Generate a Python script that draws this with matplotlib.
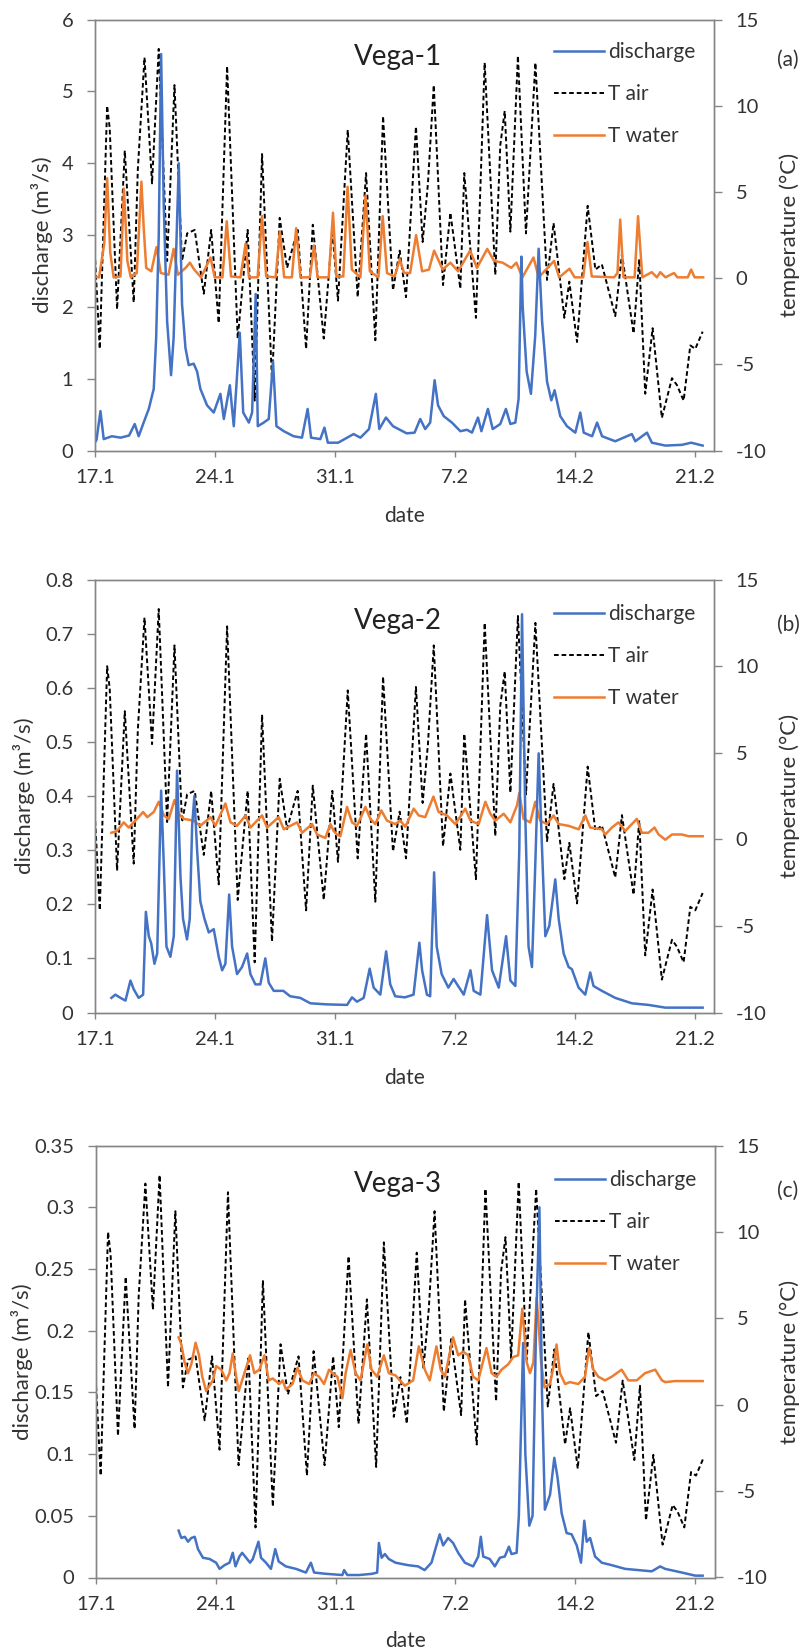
import matplotlib
matplotlib.use("Agg")
import matplotlib.pyplot as plt
from matplotlib.lines import Line2D
from matplotlib.ticker import FixedLocator, FuncFormatter

plt.rcParams['font.family'] = ['Lato', 'DejaVu Sans']

# ---------------------------------------------------------------------------
# Time axis: days since 17 January 00:00
date_ticks = [0, 7, 14, 21, 28, 35]
date_labels = ['17.1', '24.1', '31.1', '7.2', '14.2', '21.2']
x_end = 36.15

# Air temperature (one meteorological station for all sites), degC
tair_day = [0.00, 0.29, 0.72, 0.87, 1.30, 1.75, 2.27, 2.51, 2.90, 3.34,
            3.73, 4.22, 4.65, 5.09, 5.39, 5.83, 6.36, 6.79, 7.23, 7.72,
            8.34, 8.92, 9.33, 9.76, 10.34, 10.79, 11.22, 11.61, 11.84, 12.33,
            12.72, 13.36, 13.86, 14.19, 14.76, 15.34, 15.83, 16.37, 16.82, 17.40,
            17.79, 18.16, 18.74, 19.13, 19.44, 19.78, 20.32, 20.75, 21.33, 21.56,
            22.24, 22.75, 23.37, 23.66, 23.92, 24.25, 24.69, 25.16, 25.71, 26.39,
            26.77, 27.40, 27.69, 28.14, 28.76, 29.21, 29.59, 30.37, 30.76, 31.44,
            31.77, 32.12, 32.55, 33.09, 33.68, 33.97, 34.36, 34.75, 35.04, 35.47]
tair_val = [1.5, -4.1, 10.0, 8.7, -1.8, 7.4, -1.4, 6.3, 12.8, 5.5,
            13.3, 1.0, 11.2, 1.0, 2.6, 2.8, -0.9, 2.8, -2.6, 12.3,
            -3.5, 2.8, -7.1, 7.2, -5.9, 3.5, 0.6, 2.0, 2.8, -4.1,
            3.1, -3.5, 2.8, -1.3, 8.6, -1.1, 6.1, -3.6, 9.4, -0.7,
            1.6, -1.1, 8.8, 2.1, 5.5, 11.2, -0.4, 3.8, -0.6, 6.1,
            -2.3, 12.5, 0.2, 7.7, 9.7, 2.7, 12.9, 2.6, 12.5, -0.1,
            3.2, -2.3, -0.2, -3.7, 4.2, 0.5, 0.8, -2.2, 1.4, -3.2,
            1.1, -6.7, -2.9, -8.1, -5.8, -6.2, -7.1, -3.9, -4.1, -3.1]

# --- Vega-1 ----------------------------------------------------------------
v1_q_day = [0.0, 0.1, 0.33, 0.52, 1.0, 1.5, 2.0, 2.33, 2.56, 2.85,
            3.15, 3.44, 3.58, 3.73, 3.87, 4.02, 4.22, 4.45, 4.6, 4.9,
            5.09, 5.29, 5.48, 5.77, 5.97, 6.16, 6.55, 6.94, 7.33, 7.53,
            7.88, 8.11, 8.46, 8.66, 8.99, 9.18, 9.39, 9.51, 9.86, 10.15,
            10.4, 10.6, 11.03, 11.6, 12.09, 12.42, 12.62, 13.16, 13.4, 13.6,
            14.2, 15.1, 15.5, 16.0, 16.4, 16.6, 16.99, 17.4, 18.2, 18.66,
            18.99, 19.28, 19.57, 19.83, 20.03, 20.36, 20.84, 21.33, 21.72, 22.01,
            22.36, 22.56, 22.94, 23.22, 23.66, 23.99, 24.25, 24.54, 24.73, 24.89,
            24.97, 25.2, 25.45, 25.7, 25.9, 26.1, 26.39, 26.64, 26.83, 27.16,
            27.55, 28.04, 28.33, 28.53, 29.02, 29.31, 29.6, 30.37, 31.34, 31.54,
            32.22, 32.51, 33.29, 34.26, 34.8, 35.47]
v1_q = [0.11, 0.15, 0.55, 0.16, 0.2, 0.18, 0.21, 0.37, 0.2, 0.39,
        0.58, 0.86, 1.57, 2.98, 5.52, 3.45, 1.8, 1.05, 1.57, 4.0,
        2.04, 1.43, 1.19, 1.21, 1.1, 0.86, 0.63, 0.53, 0.79, 0.44,
        0.91, 0.34, 1.64, 0.53, 0.39, 0.53, 2.18, 0.34, 0.39, 0.44,
        1.24, 0.34, 0.27, 0.2, 0.18, 0.58, 0.18, 0.16, 0.32, 0.11,
        0.11, 0.23, 0.18, 0.3, 0.79, 0.3, 0.46, 0.34, 0.24, 0.25,
        0.44, 0.3, 0.39, 0.98, 0.63, 0.48, 0.39, 0.27, 0.29, 0.25,
        0.46, 0.27, 0.58, 0.3, 0.37, 0.58, 0.37, 0.39, 0.72, 2.7,
        2.0, 1.1, 0.79, 1.6, 2.81, 1.8, 0.96, 0.7, 0.84, 0.48,
        0.34, 0.25, 0.53, 0.25, 0.2, 0.39, 0.2, 0.13, 0.23, 0.13,
        0.25, 0.11, 0.07, 0.08, 0.11, 0.07]
v1_tw_day = [0.0, 0.25, 0.55, 0.72, 0.9, 1.1, 1.5, 1.7, 1.9, 2.1,
             2.45, 2.72, 2.85, 3.0, 3.3, 3.6, 3.85, 4.3, 4.6, 4.85,
             5.3, 5.55, 5.8, 6.2, 6.75, 7.0, 7.45, 7.7, 7.95, 8.5,
             8.8, 9.0, 9.5, 9.76, 10.0, 10.55, 10.8, 11.05, 11.5, 11.75,
             12.0, 12.55, 12.8, 13.0, 13.65, 13.9, 14.1, 14.5, 14.75, 15.0,
             15.5, 15.8, 16.05, 16.55, 16.8, 17.05, 17.5, 17.8, 18.05, 18.4,
             18.75, 19.1, 19.5, 19.8, 20.3, 20.75, 21.2, 21.9, 22.3, 22.9,
             23.3, 23.8, 24.3, 24.6, 24.95, 25.6, 25.9, 26.8, 27.1, 27.7,
             28.0, 28.5, 28.75, 29.0, 30.3, 30.5, 30.66, 30.85, 31.5, 31.7,
             31.95, 32.5, 32.8, 33.0, 33.3, 33.8, 34.0, 34.6, 34.8, 35.0,
             35.5]
v1_tw = [0.1, 0.05, 2.0, 5.8, 1.5, 0.05, 0.1, 5.2, 1.0, 0.05,
         0.3, 5.6, 3.0, 0.6, 0.4, 1.8, 0.3, 0.2, 1.7, 0.2,
         0.6, 0.9, 0.5, 0.05, 1.2, 0.05, 0.05, 3.3, 0.1, 0.05,
         2.0, 0.05, 0.05, 3.6, 0.1, 0.05, 2.7, 0.05, 0.05, 2.9,
         0.05, 0.05, 1.9, 0.05, 0.05, 3.8, 0.1, 0.1, 5.3, 0.5,
         0.05, 4.8, 0.4, 0.05, 3.6, 0.3, 0.1, 1.1, 0.3, 0.3,
         2.5, 0.4, 0.5, 1.6, 0.5, 0.9, 0.4, 1.6, 0.6, 1.7,
         1.0, 0.9, 0.6, 0.9, 0.05, 1.2, 0.05, 1.0, 0.05, 0.55,
         0.05, 0.05, 2.1, 0.1, 0.05, 0.3, 3.4, 0.05, 0.05, 3.6,
         0.05, 0.35, 0.05, 0.35, 0.05, 0.3, 0.05, 0.05, 0.5, 0.05,
         0.05]

# --- Vega-2 ----------------------------------------------------------------
v2_q_day = [0.97, 1.2, 1.5, 1.79, 2.08, 2.27, 2.56, 2.82, 2.98, 3.15,
            3.29, 3.48, 3.64, 3.87, 4.03, 4.18, 4.41, 4.61, 4.8, 5.0,
            5.15, 5.38, 5.54, 5.68, 5.81, 5.97, 6.16, 6.4, 6.65, 6.94,
            7.23, 7.43, 7.62, 7.84, 8.01, 8.3, 8.59, 8.89, 9.08, 9.37,
            9.66, 9.95, 10.15, 10.44, 11.0, 11.4, 11.99, 12.58, 13.55, 14.72,
            15.01, 15.3, 15.69, 16.04, 16.27, 16.66, 17.0, 17.24, 17.53, 18.1,
            18.6, 18.94, 19.1, 19.38, 19.57, 19.8, 19.95, 20.24, 20.63, 20.94,
            21.14, 21.53, 21.92, 22.11, 22.5, 22.89, 23.18, 23.57, 24.0, 24.25,
            24.54, 24.77, 24.93, 25.12, 25.31, 25.51, 25.7, 25.9, 26.1, 26.29,
            26.52, 26.68, 26.87, 27.07, 27.36, 27.65, 27.84, 28.23, 28.62, 28.91,
            29.1, 29.59, 30.37, 31.34, 32.31, 33.29, 34.26, 35.47]
v2_q = [0.027, 0.033, 0.027, 0.022, 0.059, 0.043, 0.027, 0.033, 0.186, 0.141,
        0.128, 0.09, 0.109, 0.41, 0.27, 0.122, 0.103, 0.141, 0.447, 0.25,
        0.173, 0.135, 0.173, 0.345, 0.4, 0.3, 0.205, 0.173, 0.148, 0.154,
        0.103, 0.078, 0.09, 0.218, 0.122, 0.071, 0.084, 0.109, 0.071, 0.052,
        0.052, 0.1, 0.055, 0.04, 0.04, 0.03, 0.027, 0.017, 0.015, 0.014,
        0.028, 0.02, 0.027, 0.081, 0.046, 0.033, 0.113, 0.052, 0.03, 0.028,
        0.033, 0.129, 0.078, 0.033, 0.03, 0.259, 0.122, 0.071, 0.046, 0.062,
        0.052, 0.033, 0.078, 0.04, 0.033, 0.18, 0.078, 0.046, 0.141, 0.059,
        0.049, 0.3, 0.736, 0.364, 0.122, 0.084, 0.27, 0.479, 0.3, 0.141,
        0.16, 0.199, 0.246, 0.173, 0.109, 0.084, 0.08, 0.046, 0.033, 0.074,
        0.049, 0.04, 0.027, 0.017, 0.014, 0.009, 0.009, 0.009]
v2_tw_day = [0.97, 1.3, 1.69, 1.98, 2.27, 2.82, 3.06, 3.44, 3.73, 4.03,
             4.32, 4.65, 4.9, 5.19, 5.77, 6.16, 6.75, 7.04, 7.62, 7.92,
             8.3, 8.8, 9.08, 9.76, 10.05, 10.73, 11.03, 11.8, 12.1, 12.68,
             12.97, 13.45, 13.75, 13.94, 14.13, 14.33, 14.72, 15.01, 15.3, 15.79,
             16.08, 16.37, 16.72, 17.05, 17.53, 17.83, 18.12, 18.61, 18.9, 19.28,
             19.76, 20.06, 20.55, 21.04, 21.62, 21.92, 22.4, 22.79, 23.08, 23.37,
             23.86, 24.25, 24.64, 24.77, 25.02, 25.41, 25.7, 25.99, 26.38, 26.77,
             27.07, 27.65, 28.23, 28.62, 28.91, 29.59, 29.79, 30.17, 30.56, 30.95,
             31.63, 31.92, 32.31, 32.66, 32.9, 33.29, 33.68, 34.26, 34.65, 35.47]
v2_tw = [0.38, 0.48, 0.98, 0.68, 0.98, 1.58, 1.28, 1.58, 2.17, 1.38,
         1.18, 2.27, 1.48, 1.18, 1.08, 0.78, 1.28, 0.78, 2.07, 0.98,
         0.78, 1.38, 0.68, 1.38, 0.68, 1.28, 0.58, 0.98, 0.38, 0.88,
         0.28, 0.08, 0.88, 0.48, 0.28, 0.18, 1.87, 0.98, 0.78, 1.87,
         1.18, 0.88, 1.67, 1.08, 0.88, 1.08, 0.73, 1.77, 1.38, 1.28,
         2.47, 1.58, 1.38, 0.88, 1.77, 1.08, 0.88, 2.17, 1.48, 1.08,
         1.48, 0.98, 1.97, 2.67, 1.18, 0.98, 2.17, 1.08, 0.88, 1.38,
         0.88, 0.78, 0.58, 1.38, 0.68, 0.58, 0.28, 0.68, 0.98, 0.48,
         1.18, 0.38, 0.38, 0.68, 0.28, -0.02, 0.28, 0.28, 0.18, 0.18]

# --- Vega-3 ----------------------------------------------------------------
v3_q_day = [4.84, 5.0, 5.2, 5.39, 5.58, 5.78, 5.97, 6.26, 6.65, 7.03,
            7.23, 7.52, 7.81, 8.0, 8.16, 8.39, 8.55, 8.78, 9.01, 9.17,
            9.5, 9.65, 9.94, 10.23, 10.48, 10.68, 11.1, 11.69, 12.27, 12.56,
            12.75, 13.43, 14.4, 14.5, 14.69, 15.37, 16.14, 16.43, 16.53, 16.69,
            16.88, 17.11, 17.5, 18.23, 18.82, 19.2, 19.6, 19.89, 20.08, 20.28,
            20.57, 20.86, 21.16, 21.55, 22.03, 22.33, 22.48, 22.62, 23.0, 23.3,
            23.59, 23.88, 24.12, 24.27, 24.57, 24.7, 24.95, 25.08, 25.31, 25.5,
            25.7, 25.9, 26.05, 26.22, 26.52, 26.77, 26.96, 27.2, 27.49, 27.78,
            28.08, 28.33, 28.52, 28.66, 28.86, 29.15, 29.54, 30.12, 30.9, 31.68,
            32.46, 32.95, 33.24, 34.22, 35.0, 35.43]
v3_q = [0.038, 0.032, 0.033, 0.029, 0.032, 0.033, 0.023, 0.016, 0.015, 0.012,
        0.007, 0.01, 0.012, 0.02, 0.009, 0.017, 0.02, 0.016, 0.012, 0.015,
        0.029, 0.016, 0.012, 0.007, 0.023, 0.013, 0.009, 0.007, 0.004, 0.012,
        0.004, 0.003, 0.002, 0.006, 0.002, 0.002, 0.003, 0.004, 0.028, 0.016,
        0.019, 0.015, 0.012, 0.01, 0.009, 0.006, 0.012, 0.026, 0.035, 0.026,
        0.032, 0.028, 0.02, 0.012, 0.009, 0.017, 0.033, 0.017, 0.015, 0.009,
        0.016, 0.017, 0.025, 0.019, 0.02, 0.05, 0.19, 0.1, 0.042, 0.05,
        0.2, 0.30, 0.15, 0.055, 0.067, 0.097, 0.081, 0.052, 0.036, 0.035,
        0.026, 0.012, 0.046, 0.029, 0.032, 0.017, 0.012, 0.01, 0.007, 0.006,
        0.005, 0.009, 0.007, 0.004, 0.0015, 0.0015]
v3_tw_day = [4.84, 5.0, 5.19, 5.39, 5.58, 5.83, 6.03, 6.22, 6.45, 6.84,
             7.03, 7.33, 7.62, 7.81, 8.0, 8.2, 8.35, 8.68, 9.01, 9.26,
             9.55, 9.85, 10.1, 10.33, 10.72, 10.91, 11.1, 11.49, 11.78, 12.07,
             12.46, 12.75, 13.04, 13.33, 13.62, 13.82, 14.11, 14.4, 14.59, 14.88,
             15.17, 15.46, 15.85, 16.1, 16.43, 16.82, 17.11, 17.5, 18.04, 18.53,
             18.86, 19.21, 19.5, 19.89, 20.14, 20.38, 20.86, 21.16, 21.45, 21.74,
             22.03, 22.33, 22.81, 23.11, 23.4, 23.69, 24.08, 24.37, 24.66, 24.9,
             25.16, 25.35, 25.55, 25.74, 26.0, 26.2, 26.52, 26.77, 26.9, 27.1,
             27.4, 27.68, 28.17, 28.56, 28.8, 29.05, 29.34, 29.73, 30.12, 30.7,
             31.09, 31.58, 32.07, 32.66, 33.05, 33.24, 33.82, 35.43]
v3_tw = [3.9, 3.49, 2.45, 1.83, 2.34, 3.59, 2.86, 1.62, 0.79, 1.41,
         2.24, 2.03, 1.41, 1.83, 2.97, 1.62, 0.79, 1.83, 2.86, 1.83,
         2.03, 2.86, 1.41, 1.52, 1.2, 1.41, 0.89, 1.2, 2.14, 1.41,
         1.2, 1.83, 1.62, 1.2, 2.03, 1.83, 1.62, 0.37, 1.83, 3.17,
         1.83, 1.41, 3.49, 2.03, 1.62, 2.86, 1.83, 1.7, 1.1, 1.41,
         3.38, 2.03, 1.41, 3.38, 2.03, 1.62, 3.9, 2.86, 3.07, 2.86,
         1.62, 1.41, 3.28, 1.83, 1.62, 2.03, 2.34, 2.76, 2.86, 5.56,
         2.45, 1.83, 2.45, 6.2, 2.45, 1.0, 1.2, 2.45, 3.49, 1.83,
         1.2, 1.31, 1.2, 1.62, 3.28, 2.03, 1.62, 1.41, 1.62, 2.03,
         1.41, 1.41, 1.83, 2.03, 1.41, 1.31, 1.37, 1.37]

# ---------------------------------------------------------------------------
W, H = 806, 1652
BLUE = '#4472C4'
ORANGE = '#ED7D31'
SPINE = '#858585'
TXT = '#333333'
FS_TICK = 14.5
FS_TEXT = 15
FS_YLAB = 16
TAIR_LW = 1.4
TAIR_DASH = (2.4, 1.5)

panels = [
    dict(box=(94.8, 714.3, 19.6, 450.6), name='Vega-1', tag='(a)',
         title_y=65, tag_y=60, leg_y=51.7, ylab_x=53, date_y=506,
         q_day=v1_q_day, q=v1_q, tw_day=v1_tw_day, tw=v1_tw,
         qmax=6, qstep=1),
    dict(box=(94.8, 714.3, 579.6, 1012.5), name='Vega-2', tag='(b)',
         title_y=628.8, tag_y=624.4, leg_y=614, ylab_x=35, date_y=1068,
         q_day=v2_q_day, q=v2_q, tw_day=v2_tw_day, tw=v2_tw,
         qmax=0.8, qstep=0.1),
    dict(box=(95.7, 715.0, 1145.6, 1577.5), name='Vega-3', tag='(c)',
         title_y=1192.2, tag_y=1190.4, leg_y=1179.6, ylab_x=33, date_y=1631,
         q_day=v3_q_day, q=v3_q, tw_day=v3_tw_day, tw=v3_tw,
         qmax=0.35, qstep=0.05),
]

fig = plt.figure(figsize=(W / 100, H / 100), dpi=100)


def fx(px):
    return px / W


def fy(py):
    return 1 - py / H


num_fmt = FuncFormatter(lambda v, pos: f'{v:g}')
fs_px = FS_TEXT * 100 / 72

for p in panels:
    l, r, t, b = p['box']
    wpx, hpx = r - l, b - t
    ax_t = fig.add_axes([fx(l), fy(b), wpx / W, hpx / H])
    ax_q = ax_t.twinx()

    # temperature on the right, discharge on the left (drawn on top)
    ax_t.yaxis.tick_right()
    ax_t.yaxis.set_label_position('right')
    ax_q.yaxis.tick_left()
    ax_q.yaxis.set_label_position('left')

    ax_t.plot(tair_day, tair_val, color='black', lw=TAIR_LW,
              dashes=TAIR_DASH, label='T air')
    ax_t.plot(p['tw_day'], p['tw'], color=ORANGE, lw=1.8, label='T water')
    ax_q.plot(p['q_day'], p['q'], color=BLUE, lw=1.8, label='discharge')

    ax_t.set_xlim(0, x_end)
    ax_t.set_ylim(-10, 15)
    ax_q.set_ylim(0, p['qmax'])

    n = int(round(p['qmax'] / p['qstep']))
    ax_q.yaxis.set_major_locator(FixedLocator([round(i * p['qstep'], 3) for i in range(n + 1)]))
    ax_q.yaxis.set_major_formatter(num_fmt)
    ax_t.yaxis.set_major_locator(FixedLocator([-10, -5, 0, 5, 10, 15]))
    ax_t.yaxis.set_major_formatter(num_fmt)
    ax_t.set_xticks(date_ticks)
    ax_t.set_xticklabels(date_labels)

    for ax in (ax_t, ax_q):
        for s in ax.spines.values():
            s.set_color(SPINE)
            s.set_linewidth(1.0)
    ax_t.tick_params(axis='x', direction='out', length=4, width=1.0, color=SPINE,
                     labelsize=FS_TICK, labelcolor=TXT, pad=9)
    ax_t.tick_params(axis='y', direction='out', length=5.5, width=1.0, color=SPINE,
                     labelsize=FS_TICK, labelcolor=TXT, pad=10)
    ax_q.tick_params(axis='y', direction='out', length=5.5, width=1.0, color=SPINE,
                     labelsize=FS_TICK, labelcolor=TXT, pad=10)

    ax_q.set_ylabel('discharge (m³/s)', fontsize=FS_YLAB, color=TXT)
    ax_q.yaxis.set_label_coords((p['ylab_x'] - l) / wpx, 0.5)
    ax_t.set_ylabel('temperature (°C)', fontsize=FS_YLAB, color=TXT)
    ax_t.yaxis.set_label_coords((779 - l) / wpx, 0.5)
    ax_t.set_xlabel('date', fontsize=FS_TEXT, color=TXT)
    ax_t.xaxis.set_label_coords(0.5, -(p['date_y'] - b) / hpx)

    # site name inside the plot area
    fig.text(fx(398), fy(p['title_y']), p['name'], fontsize=20,
             color='#222222', ha='center', va='baseline')

    handles = [Line2D([], [], color=BLUE, lw=1.8),
               Line2D([], [], color='black', lw=TAIR_LW, dashes=TAIR_DASH),
               Line2D([], [], color=ORANGE, lw=1.8)]
    ax_q.legend(handles, ['discharge', 'T air', 'T water'],
                loc='upper left',
                bbox_to_anchor=(fx(l + 459), fy(p['leg_y'] - 0.47 * fs_px)),
                bbox_transform=fig.transFigure, frameon=False, fontsize=FS_TEXT,
                handlelength=2.4, handletextpad=0.22, labelspacing=1.06,
                borderpad=0, borderaxespad=0, labelcolor=TXT)

    fig.text(fx(777), fy(p['tag_y']), p['tag'], fontsize=FS_TEXT, color=TXT,
             ha='left', va='center')

fig.savefig('out.png', dpi=100)
